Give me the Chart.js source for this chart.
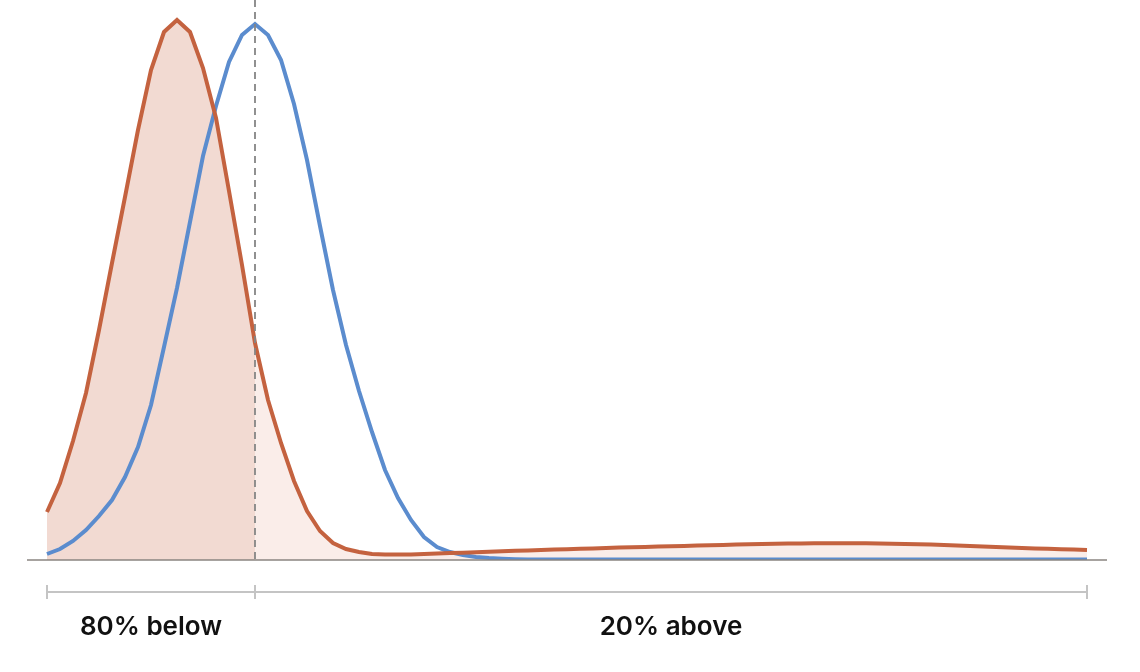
<!DOCTYPE html>
<html>
<head>
<meta charset="utf-8">
<script src="https://cdn.jsdelivr.net/npm/chart.js@4"></script>
<style>
  html, body { margin: 0; padding: 0; background: #fff; }
  #wrap { width: 1140px; height: 672px; }
</style>
</head>
<body>
<div id="wrap"><canvas id="distChart" width="1140" height="672"></canvas></div>
<script>
// values, one point per step along the x axis
var orangeValues = [
  48, 77, 119, 167, 230, 297, 363, 430, 490, 528,
  540, 528, 492, 442, 369, 295, 217, 160, 117, 79,
  49, 29, 17, 11, 8, 6, 5.5, 5.5, 5.5, 6,
  6.5, 7, 7.3, 7.8, 8.3, 8.8, 9.2, 9.6, 10, 10.4,
  10.8, 11.2, 11.6, 12, 12.4, 12.8, 13.1, 13.5, 13.8, 14.1,
  14.5, 14.8, 15.1, 15.4, 15.7, 16, 16.2, 16.4, 16.6, 16.7,
  16.8, 16.8, 16.8, 16.7, 16.5, 16.3, 16.1, 15.8, 15.4, 15,
  14.6, 14.1, 13.6, 13.1, 12.6, 12.1, 11.6, 11.2, 10.8, 10.4,
  10
];
var blueValues = [
  6, 11, 19, 30, 44, 60, 83, 113, 155, 213,
  272, 338, 404, 454, 498, 525, 536, 525, 500, 456,
  400, 334, 270, 215, 169, 128, 90, 62, 40, 23,
  13, 8, 5, 3, 2, 1.3, 0.8, 0.5, 0.5, 0.5,
  0.5, 0.5, 0.5, 0.5, 0.5, 0.5, 0.5, 0.5, 0.5, 0.5,
  0.5, 0.5, 0.5, 0.5, 0.5, 0.5, 0.5, 0.5, 0.5, 0.5,
  0.5, 0.5, 0.5, 0.5, 0.5, 0.5, 0.5, 0.5, 0.5, 0.5,
  0.5, 0.5, 0.5, 0.5, 0.5, 0.5, 0.5, 0.5, 0.5, 0.5,
  0.5
];
var categories = orangeValues.map(function (v, i) { return i; });
var splitIndex = 16;            // where the dashed line sits
var rangeLabels = ["80% below", "20% above"];
var bracketStops = [0, splitIndex, orangeValues.length - 1];

var orangeLeft = orangeValues.map(function (v, i) { return i <= splitIndex ? v : null; });
var orangeRight = orangeValues.map(function (v, i) { return i >= splitIndex ? v : null; });

// baseline, dashed split line and the bracket with labels underneath
var annotations = {
  id: 'annotations',
  afterDatasetsDraw: function (chart) {
    var ctx = chart.ctx;
    var x = chart.scales.x, y = chart.scales.y;
    var area = chart.chartArea;
    var y0 = y.getPixelForValue(0);
    ctx.save();

    ctx.strokeStyle = '#8a8580';
    ctx.lineWidth = 1.5;
    ctx.beginPath();
    ctx.moveTo(area.left - 20, y0);
    ctx.lineTo(area.right + 20, y0);
    ctx.stroke();

    var xs = x.getPixelForValue(splitIndex);
    ctx.strokeStyle = '#858585';
    ctx.lineWidth = 1.8;
    ctx.setLineDash([7, 5]);
    ctx.beginPath();
    ctx.moveTo(xs, 0);
    ctx.lineTo(xs, y0);
    ctx.stroke();
    ctx.setLineDash([]);

    var by = y0 + 32;
    ctx.strokeStyle = '#c4c4c4';
    ctx.lineWidth = 2;
    var px = bracketStops.map(function (s) { return x.getPixelForValue(s); });
    ctx.beginPath();
    ctx.moveTo(px[0], by);
    ctx.lineTo(px[px.length - 1], by);
    px.forEach(function (p) {
      ctx.moveTo(p, by - 7);
      ctx.lineTo(p, by + 7);
    });
    ctx.stroke();

    ctx.fillStyle = '#111';
    ctx.font = '600 26px Inter, "Noto Sans", sans-serif';
    ctx.textAlign = 'center';
    ctx.textBaseline = 'middle';
    rangeLabels.forEach(function (txt, i) {
      ctx.fillText(txt, (px[i] + px[i + 1]) / 2, by + 35);
    });
    ctx.restore();
  }
};

new Chart(document.getElementById('distChart'), {
  type: 'line',
  data: {
    labels: categories,
    datasets: [
      {
        data: orangeValues,
        borderColor: '#c4623f',
        borderWidth: 4,
        pointRadius: 0,
        tension: 0,
        fill: false
      },
      {
        data: blueValues,
        borderColor: '#5b8cce',
        borderWidth: 4,
        pointRadius: 0,
        tension: 0,
        fill: false
      },
      {
        data: orangeLeft,
        borderWidth: 0,
        pointRadius: 0,
        backgroundColor: '#f2dad2',
        fill: 'origin'
      },
      {
        data: orangeRight,
        borderWidth: 0,
        pointRadius: 0,
        backgroundColor: '#faede9',
        fill: 'origin'
      }
    ]
  },
  options: {
    responsive: false,
    animation: false,
    devicePixelRatio: 1,
    layout: { padding: { left: 47, right: 53, top: 0, bottom: 112 } },
    plugins: { legend: { display: false }, tooltip: { enabled: false } },
    scales: {
      x: { type: 'category', offset: false, display: false },
      y: { min: 0, max: 560, display: false }
    }
  },
  plugins: [annotations]
});
</script>
</body>
</html>
